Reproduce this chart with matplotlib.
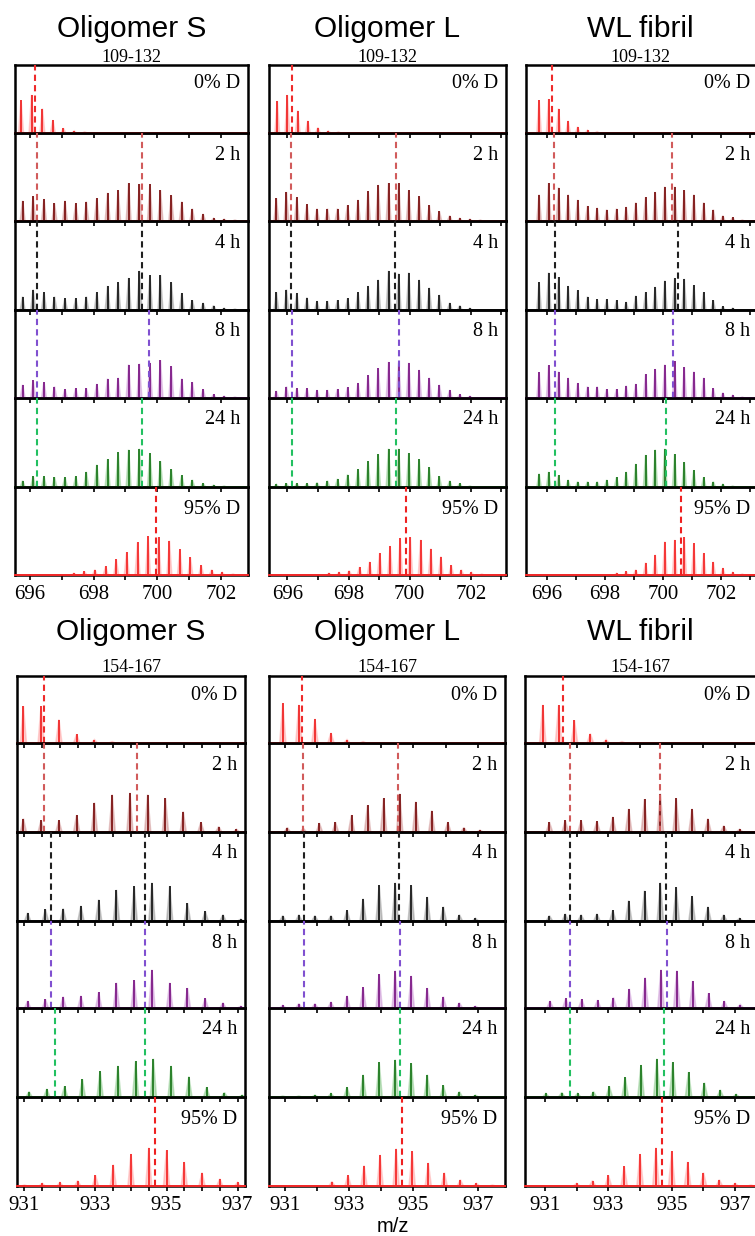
import numpy as np
import matplotlib
matplotlib.use("Agg")
import matplotlib.pyplot as plt
from matplotlib.ticker import FixedLocator, MultipleLocator

W, H = 755, 1236

labels = ["0% D", "2 h", "4 h", "8 h", "24 h", "95% D"]
dark = ["#f02828", "#7d1414", "#1a1a1a", "#7e1a86", "#1f7a1f", "#f52a2a"]
light = ["#ff9a9a", "#c98585", "#8c8c8c", "#c58ad0", "#7cc27c", "#ff9a9a"]
dash = ["#ee2a2a", "#d15b5b", "#202020", "#8050d0", "#22c060", "#ee2020"]

# isotope peak positions (m/z)
mz_109 = [695.74, 696.07, 696.41, 696.74, 697.07, 697.41, 697.74, 698.07, 698.41, 698.74, 699.07,
          699.41, 699.74, 700.07, 700.41, 700.74, 701.07, 701.41, 701.74, 702.07, 702.41, 702.74]
mz_154 = [930.96, 931.46, 931.96, 932.46, 932.96, 933.46, 933.96, 934.46, 934.96, 935.46,
          935.96, 936.46, 936.96, 937.46]
ticks_109 = [696, 698, 700, 702]
ticks_154 = [931, 933, 935, 937]

# peak heights, fraction of each strip height (rows: 0%D, 2h, 4h, 8h, 24h, 95%D)
olig_s_109 = [
    [0.48, 0.56, 0.36, 0.19, 0.07, 0.03, 0.015, 0, 0, 0, 0, 0, 0, 0, 0, 0, 0, 0, 0, 0, 0, 0],
    [0.23, 0.28, 0.25, 0.20, 0.23, 0.20, 0.22, 0.26, 0.32, 0.35, 0.43, 0.42, 0.42, 0.35, 0.29, 0.22, 0.14, 0.08, 0.03, 0.02, 0.01, 0],
    [0.15, 0.23, 0.20, 0.15, 0.13, 0.13, 0.15, 0.20, 0.27, 0.31, 0.36, 0.44, 0.39, 0.39, 0.31, 0.19, 0.11, 0.08, 0.05, 0.02, 0.01, 0],
    [0.15, 0.20, 0.18, 0.13, 0.10, 0.11, 0.11, 0.16, 0.22, 0.23, 0.38, 0.39, 0.40, 0.43, 0.36, 0.22, 0.18, 0.10, 0.04, 0.02, 0.01, 0],
    [0.07, 0.12, 0.12, 0.11, 0.11, 0.12, 0.17, 0.25, 0.31, 0.39, 0.42, 0.43, 0.38, 0.29, 0.20, 0.13, 0.08, 0.04, 0.02, 0.01, 0, 0],
    [0, 0, 0, 0, 0, 0.02, 0.04, 0.06, 0.10, 0.18, 0.26, 0.37, 0.44, 0.43, 0.39, 0.29, 0.20, 0.11, 0.06, 0.03, 0.01, 0],
]
olig_l_109 = [
    [0.47, 0.56, 0.33, 0.18, 0.08, 0.03, 0.015, 0, 0, 0, 0, 0, 0, 0, 0, 0, 0, 0, 0, 0, 0, 0],
    [0.26, 0.33, 0.27, 0.19, 0.14, 0.14, 0.14, 0.18, 0.24, 0.34, 0.41, 0.43, 0.43, 0.35, 0.28, 0.18, 0.11, 0.06, 0.03, 0.02, 0.01, 0],
    [0.20, 0.23, 0.19, 0.14, 0.10, 0.10, 0.11, 0.13, 0.20, 0.27, 0.34, 0.44, 0.41, 0.42, 0.34, 0.25, 0.17, 0.08, 0.05, 0.02, 0, 0],
    [0.08, 0.13, 0.11, 0.11, 0.09, 0.09, 0.10, 0.12, 0.17, 0.26, 0.34, 0.41, 0.40, 0.40, 0.32, 0.23, 0.15, 0.09, 0.04, 0.02, 0, 0],
    [0.03, 0.04, 0.04, 0.04, 0.05, 0.07, 0.09, 0.14, 0.20, 0.29, 0.37, 0.43, 0.43, 0.38, 0.31, 0.22, 0.12, 0.07, 0.04, 0.01, 0, 0],
    [0, 0, 0, 0, 0, 0.02, 0.03, 0.05, 0.09, 0.15, 0.25, 0.33, 0.42, 0.43, 0.40, 0.30, 0.21, 0.11, 0.06, 0.03, 0.01, 0],
]
wl_109 = [
    [0.48, 0.50, 0.36, 0.18, 0.09, 0.04, 0.02, 0, 0, 0, 0, 0, 0, 0, 0, 0, 0, 0, 0, 0, 0, 0],
    [0.30, 0.43, 0.38, 0.30, 0.24, 0.17, 0.15, 0.13, 0.14, 0.16, 0.21, 0.27, 0.33, 0.39, 0.39, 0.35, 0.30, 0.21, 0.13, 0.06, 0.04, 0.01],
    [0.31, 0.42, 0.37, 0.27, 0.22, 0.15, 0.12, 0.12, 0.11, 0.09, 0.16, 0.20, 0.26, 0.33, 0.36, 0.35, 0.28, 0.20, 0.11, 0.04, 0.02, 0],
    [0.29, 0.37, 0.30, 0.23, 0.17, 0.13, 0.13, 0.10, 0.10, 0.14, 0.16, 0.27, 0.33, 0.38, 0.42, 0.35, 0.30, 0.23, 0.11, 0.06, 0.03, 0.01],
    [0.15, 0.17, 0.13, 0.08, 0.06, 0.06, 0.06, 0.08, 0.11, 0.17, 0.26, 0.36, 0.42, 0.43, 0.37, 0.28, 0.19, 0.11, 0.06, 0.03, 0.01, 0],
    [0, 0, 0, 0, 0, 0, 0, 0, 0.02, 0.04, 0.06, 0.14, 0.23, 0.38, 0.40, 0.43, 0.36, 0.25, 0.15, 0.08, 0.03, 0.01],
]
olig_s_154 = [
    [0.55, 0.55, 0.35, 0.13, 0.05, 0.02, 0, 0, 0, 0, 0, 0, 0, 0],
    [0.15, 0.13, 0.13, 0.19, 0.33, 0.42, 0.44, 0.42, 0.38, 0.23, 0.11, 0.06, 0.03, 0],
    [0.09, 0.13, 0.14, 0.17, 0.24, 0.35, 0.39, 0.43, 0.39, 0.20, 0.11, 0.07, 0.02, 0],
    [0.08, 0.10, 0.13, 0.14, 0.18, 0.29, 0.32, 0.44, 0.29, 0.23, 0.11, 0.06, 0.02, 0],
    [0.06, 0.09, 0.12, 0.20, 0.29, 0.35, 0.40, 0.43, 0.35, 0.23, 0.11, 0.05, 0.02, 0],
    [0.01, 0.03, 0.04, 0.06, 0.12, 0.24, 0.36, 0.43, 0.40, 0.27, 0.15, 0.08, 0.04, 0],
]
olig_l_154 = [
    [0.59, 0.57, 0.36, 0.15, 0.05, 0.02, 0, 0, 0, 0, 0, 0, 0, 0],
    [0.05, 0.04, 0.10, 0.11, 0.19, 0.30, 0.38, 0.43, 0.34, 0.24, 0.11, 0.05, 0.02, 0],
    [0.06, 0.07, 0.06, 0.06, 0.12, 0.25, 0.40, 0.43, 0.40, 0.27, 0.16, 0.07, 0.03, 0],
    [0.03, 0.05, 0.05, 0.07, 0.14, 0.24, 0.39, 0.43, 0.37, 0.23, 0.13, 0.06, 0.02, 0],
    [0.01, 0.01, 0.02, 0.04, 0.11, 0.25, 0.39, 0.42, 0.38, 0.25, 0.13, 0.06, 0.02, 0],
    [0, 0, 0, 0.05, 0.12, 0.23, 0.35, 0.42, 0.39, 0.26, 0.15, 0.07, 0.03, 0.01],
]
wl_154 = [
    [0.57, 0.56, 0.34, 0.14, 0.05, 0.02, 0, 0, 0, 0, 0, 0, 0, 0],
    [0.11, 0.13, 0.13, 0.12, 0.17, 0.26, 0.37, 0.43, 0.38, 0.26, 0.15, 0.07, 0.03, 0],
    [0.06, 0.08, 0.07, 0.08, 0.12, 0.23, 0.34, 0.43, 0.38, 0.28, 0.16, 0.07, 0.03, 0],
    [0.08, 0.11, 0.10, 0.09, 0.12, 0.22, 0.35, 0.44, 0.43, 0.31, 0.17, 0.08, 0.04, 0],
    [0.04, 0.05, 0.04, 0.06, 0.12, 0.22, 0.36, 0.43, 0.39, 0.28, 0.16, 0.08, 0.03, 0],
    [0, 0, 0.03, 0.06, 0.12, 0.22, 0.36, 0.43, 0.39, 0.27, 0.15, 0.07, 0.03, 0.01],
]

# small m/z offsets of each trace as drawn
shift_s_109 = [-0.02, 0.03, 0.03, 0.03, 0.03, -0.03]
shift_l_109 = [-0.07, -0.10, -0.10, -0.10, -0.10, -0.05]
shift_wl_109 = [0, 0, 0, 0, 0, 0]
shift_s_154 = [0.01, 0.01, 0.13, 0.13, 0.17, 0.04]
shift_l_154 = [-0.03, 0.11, -0.03, -0.03, -0.03, 0]
shift_wl_154 = [-0.03, 0.18, 0.18, 0.20, 0.07, 0.04]

# centroid markers (dashed lines)
cent_s_109 = [[696.17], [696.23, 699.51], [696.23, 699.51], [696.23, 699.75], [696.23, 699.51], [699.95]]
cent_l_109 = [[696.16], [696.13, 699.55], [696.13, 699.53], [696.15, 699.66], [696.15, 699.55], [699.88]]
cent_wl_109 = [[696.19], [696.26, 700.31], [696.29, 700.52], [696.29, 700.34], [696.29, 700.10], [700.63]]
cent_s_154 = [[931.56], [931.56, 934.16], [931.74, 934.39], [931.74, 934.39], [931.86, 934.39], [934.68]]
cent_l_154 = [[931.54], [931.57, 934.53], [931.59, 934.56], [931.60, 934.58], [934.58], [934.65]]
cent_wl_154 = [[931.58], [931.79, 934.63], [931.79, 934.81], [931.79, 934.86], [931.79, 934.76], [934.70]]

# strip edges in pixels
rows_top = [65, 133, 221, 310, 398, 487, 575]
rows_bot = [676, 743, 832, 921, 1008, 1097, 1186]

panels = [
    dict(title="Oligomer S", sub="109-132", mz=mz_109, hts=olig_s_109, shift=shift_s_109, cent=cent_s_109,
         x=(15, 248), rows=rows_top, xlim=(695.53, 702.85), ticks=ticks_109, minor=1, hw=0.075),
    dict(title="Oligomer L", sub="109-132", mz=mz_109, hts=olig_l_109, shift=shift_l_109, cent=cent_l_109,
         x=(269, 506), rows=rows_top, xlim=(695.40, 703.15), ticks=ticks_109, minor=1, hw=0.075),
    dict(title="WL fibril", sub="109-132", mz=mz_109, hts=wl_109, shift=shift_wl_109, cent=cent_wl_109,
         x=(526, 758), rows=rows_top, xlim=(695.29, 703.28), ticks=ticks_109, minor=1, hw=0.075),
    dict(title="Oligomer S", sub="154-167", mz=mz_154, hts=olig_s_154, shift=shift_s_154, cent=cent_s_154,
         x=(17, 245), rows=rows_bot, xlim=(930.79, 937.21), ticks=ticks_154, minor=0.5, hw=0.085),
    dict(title="Oligomer L", sub="154-167", mz=mz_154, hts=olig_l_154, shift=shift_l_154, cent=cent_l_154,
         x=(269, 505), rows=rows_bot, xlim=(930.50, 937.85), ticks=ticks_154, minor=1, hw=0.095),
    dict(title="WL fibril", sub="154-167", mz=mz_154, hts=wl_154, shift=shift_wl_154, cent=cent_wl_154,
         x=(525, 758), rows=rows_bot, xlim=(930.37, 937.72), ticks=ticks_154, minor=1, hw=0.1),
]

serif = ["Liberation Serif", "DejaVu Serif"]
sans = ["Liberation Sans", "DejaVu Sans"]

fig = plt.figure(figsize=(W / 100, H / 100), dpi=100)
fig.patch.set_facecolor("white")

for p in panels:
    l, r = p["x"]
    for k in range(6):
        t, b = p["rows"][k], p["rows"][k + 1]
        ax = fig.add_axes([l / W, 1 - b / H, (r - l) / W, (b - t) / H])
        ax.set_facecolor("none")
        pos = np.array(p["mz"]) + p["shift"][k]
        hts = np.array(p["hts"][k])
        keep = hts > 0
        for x0, v in zip(pos[keep], hts[keep]):
            ax.fill([x0 - p["hw"], x0, x0 + p["hw"]], [0, v, 0], facecolor=light[k], alpha=0.45,
                    edgecolor=light[k], lw=1.2)
        ax.vlines(pos[keep], 0, hts[keep], color=dark[k], lw=1.3)
        ax.axhline(0, color=dark[k], lw=1.4, zorder=3, clip_on=False)
        for c in p["cent"][k]:
            ax.axvline(c, color=dash[k], lw=1.5, ls=(0, (3, 2)), zorder=4)
        ax.set_xlim(p["xlim"])
        ax.set_ylim(0, 1)
        ax.set_yticks([])
        ax.xaxis.set_major_locator(FixedLocator(p["ticks"]))
        ax.xaxis.set_minor_locator(MultipleLocator(p["minor"]))
        ax.tick_params(axis="x", which="both", direction="out", length=3.5, width=1.2, pad=4)
        for s in ax.spines.values():
            s.set_linewidth(1.8)
        if k == 5:
            for lab in ax.get_xticklabels():
                lab.set_fontfamily(serif)
                lab.set_fontsize(15)
        else:
            ax.tick_params(axis="x", labelbottom=False)
        ax.annotate(labels[k], xy=(1, 1), xycoords="axes fraction", xytext=(-8, -19 if k == 0 else -22),
                    textcoords="offset pixels", ha="right", va="center", fontsize=14.5, family=serif)
    cx = (l + min(r, 755)) / 2
    ty = p["rows"][0]
    fig.text(cx / W, 1 - (ty - 36) / H if ty < 100 else 1 - (ty - 44) / H, p["title"],
             ha="center", va="center", fontsize=21.5, family=sans)
    fig.text(cx / W, 1 - (ty - 8) / H, p["sub"], ha="center", va="center", fontsize=13, family=serif)

fig.text(393 / W, 1 - 1227 / H, "m/z", ha="center", va="center", fontsize=14.5, family=sans)

fig.savefig("out.png", dpi=100)
